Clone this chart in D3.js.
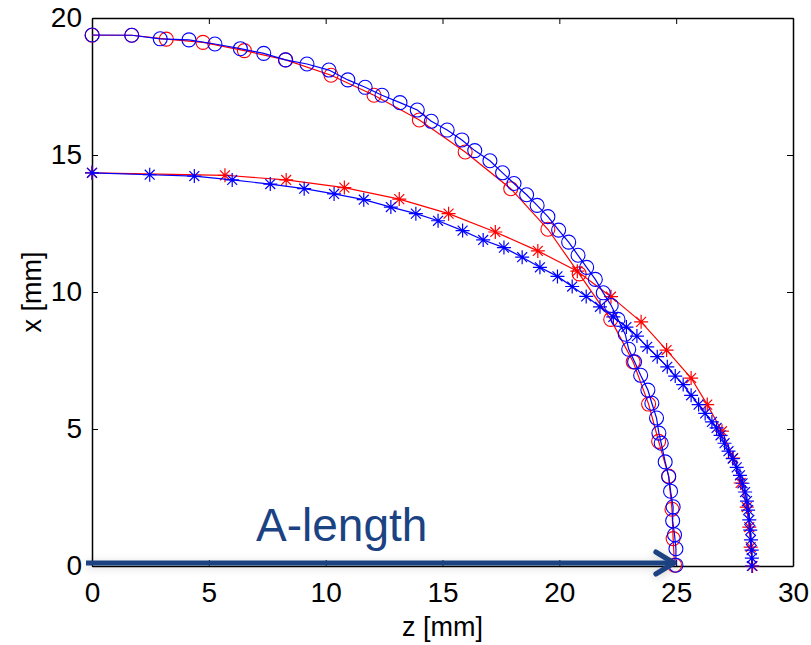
<!DOCTYPE html>
<html>
<head>
<meta charset="utf-8">
<script src="https://cdn.jsdelivr.net/npm/d3@7"></script>
<style>
  body { margin: 0; background: #fff; }
  svg { display: block; font-family: "Liberation Sans", Arial, sans-serif; }
</style>
</head>
<body>
<script>
// [z, x] samples in mm
const blueCircles = [
  [0.01, 19.38], [1.70, 19.37], [2.92, 19.24], [4.15, 19.20], [5.26, 19.05],
  [6.35, 18.88], [7.35, 18.71], [8.28, 18.47], [9.20, 18.32], [10.14, 18.10],
  [10.95, 17.74], [11.69, 17.47], [12.41, 17.18], [13.18, 16.91], [13.92, 16.64],
  [14.52, 16.23], [15.20, 15.91], [15.83, 15.55], [16.38, 15.16], [17.03, 14.79],
  [17.57, 14.35], [18.06, 13.96], [18.60, 13.55], [19.05, 13.16], [19.51, 12.75],
  [19.97, 12.26], [20.40, 11.82], [20.80, 11.34], [21.17, 10.90], [21.54, 10.46],
  [21.88, 9.97], [22.22, 9.51], [22.51, 9.00], [22.82, 8.46], [22.97, 7.91],
  [23.22, 7.45], [23.48, 6.96], [23.79, 6.42], [23.96, 5.94], [24.16, 5.40],
  [24.26, 4.85], [24.36, 4.48], [24.53, 3.80], [24.68, 3.26], [24.76, 2.73],
  [24.87, 2.16], [24.85, 1.65], [24.93, 1.14], [24.99, 0.63], [24.99, 0.03]
];

const redCircles = [
  [0, 19.37], [1.70, 19.37], [3.18, 19.23], [4.75, 19.11], [6.52, 18.81],
  [8.29, 18.47], [10.23, 17.91], [12.07, 17.18], [14.01, 16.28], [15.97, 15.11],
  [17.92, 13.77], [19.51, 12.29], [20.85, 10.66], [22.20, 9.00], [23.16, 7.45],
  [23.82, 5.91], [24.25, 4.55], [24.68, 3.28], [24.82, 2.07], [24.87, 1.00],
  [24.93, 0.03]
];

const blueStars = [
  [0, 14.35], [2.47, 14.28], [4.38, 14.23], [6.00, 14.09], [7.63, 13.94],
  [9.08, 13.77], [10.36, 13.58], [11.63, 13.37], [12.79, 13.10], [13.86, 12.86],
  [14.81, 12.60], [15.86, 12.24], [16.74, 11.90], [17.63, 11.62], [18.41, 11.27],
  [19.17, 10.90], [19.92, 10.57], [20.55, 10.20], [21.15, 9.84], [21.74, 9.46],
  [22.31, 9.09], [22.87, 8.72], [23.32, 8.39], [23.76, 8.00], [24.19, 7.64],
  [24.62, 7.27], [24.96, 6.93], [25.30, 6.62], [25.64, 6.23], [25.96, 5.89],
  [26.24, 5.57], [26.53, 5.26], [26.73, 5.04], [26.90, 4.77], [27.07, 4.48],
  [27.24, 4.19], [27.42, 3.92], [27.59, 3.60], [27.73, 3.31], [27.84, 3.02],
  [27.95, 2.70], [28.03, 2.37], [28.08, 2.04], [28.13, 1.68], [28.17, 1.31],
  [28.20, 0.95], [28.23, 0.58], [28.24, 0.29], [28.24, 0.0]
];

const redStars = [
  [0, 14.35], [5.69, 14.26], [8.31, 14.09], [10.80, 13.81], [13.15, 13.39],
  [15.26, 12.86], [17.26, 12.19], [19.08, 11.50], [20.77, 10.76], [22.21, 9.83],
  [23.50, 8.91], [24.59, 7.88], [25.64, 6.86], [26.33, 5.89], [26.96, 4.92],
  [27.44, 3.94], [27.76, 3.03], [28.02, 2.15], [28.13, 1.42], [28.19, 0.69],
  [28.27, 0]
];

const xTicks = [0, 5, 10, 15, 20, 25, 30];
const yTicks = [0, 5, 10, 15, 20];
const arrowLabel = "A-length";
const arrowEnd = 24.9; // mm, where the A-length arrow points

const width = 811;
const height = 645;
const box = { left: 92, right: 793, top: 18, bottom: 566 };
const navy = "#1b4282";

const svg = d3
  .select("body")
  .append("svg")
  .attr("width", width)
  .attr("height", height);

const xScale = d3.scaleLinear().domain([0, 30]).range([box.left, box.right]);
const yScale = d3.scaleLinear().domain([0, 20]).range([box.bottom, box.top]);

// Axes box, ticks pointing inward on all four sides
const tickLen = 6;
svg.append("g")
  .attr("transform", `translate(0, ${box.bottom})`)
  .call(d3.axisBottom(xScale).tickValues(xTicks).tickSizeInner(-tickLen).tickSizeOuter(0).tickPadding(16))
  .call((g) => g.select(".domain").attr("stroke-width", 1.5))
  .selectAll("text")
  .style("font-size", "28px")
  .attr("fill", "#000");

svg.append("g")
  .attr("transform", `translate(0, ${box.top})`)
  .call(d3.axisTop(xScale).tickValues(xTicks).tickSizeInner(-tickLen).tickSizeOuter(0).tickFormat(""))
  .call((g) => g.select(".domain").attr("stroke-width", 1.5));

svg.append("g")
  .attr("transform", `translate(${box.left}, 0)`)
  .call(d3.axisLeft(yScale).tickValues(yTicks).tickSizeInner(-tickLen).tickSizeOuter(0).tickPadding(10))
  .call((g) => g.select(".domain").attr("stroke-width", 1.5))
  .selectAll("text")
  .style("font-size", "28px")
  .attr("fill", "#000");

svg.append("g")
  .attr("transform", `translate(${box.right}, 0)`)
  .call(d3.axisRight(yScale).tickValues(yTicks).tickSizeInner(-tickLen).tickSizeOuter(0).tickFormat(""))
  .call((g) => g.select(".domain").attr("stroke-width", 1.5));

svg.selectAll(".tick line").attr("stroke", "#000");

// Axis labels
svg.append("text")
  .attr("x", (box.left + box.right) / 2)
  .attr("y", 636)
  .attr("text-anchor", "middle")
  .style("font-size", "27px")
  .text("z [mm]");

svg.append("text")
  .attr("transform", `translate(41, ${(box.top + box.bottom) / 2}) rotate(-90)`)
  .attr("text-anchor", "middle")
  .style("font-size", "27px")
  .text("x [mm]");

// Series
const line = d3.line()
  .x((d) => xScale(d[0]))
  .y((d) => yScale(d[1]));

function star(r) {
  const a = r * Math.SQRT1_2;
  return `M${-r},0H${r}M0,${-r}V${r}M${-a},${-a}L${a},${a}M${-a},${a}L${a},${-a}`;
}

function drawSeries(data, color, marker) {
  const g = svg.append("g");
  g.append("path")
    .datum(data)
    .attr("d", line)
    .attr("fill", "none")
    .attr("stroke", color)
    .attr("stroke-width", 1.2);

  if (marker === "circle") {
    g.selectAll("circle")
      .data(data)
      .enter()
      .append("circle")
      .attr("cx", (d) => xScale(d[0]))
      .attr("cy", (d) => yScale(d[1]))
      .attr("r", 7)
      .attr("fill", "none")
      .attr("stroke", color)
      .attr("stroke-width", 1.1);
  } else {
    g.selectAll("path.star")
      .data(data)
      .enter()
      .append("path")
      .attr("class", "star")
      .attr("transform", (d) => `translate(${xScale(d[0])}, ${yScale(d[1])})`)
      .attr("d", star(7))
      .attr("fill", "none")
      .attr("stroke", color)
      .attr("stroke-width", 1.2);
  }
}

drawSeries(redCircles, "#ff0000", "circle");
drawSeries(redStars, "#ff0000", "star");
drawSeries(blueCircles, "#0000ff", "circle");
drawSeries(blueStars, "#0000ff", "star");

// A-length arrow with soft shadow
const defs = svg.append("defs");
const shadow = defs.append("filter")
  .attr("id", "shadow")
  .attr("x", "-10%").attr("y", "-200%")
  .attr("width", "120%").attr("height", "500%");
shadow.append("feDropShadow")
  .attr("dx", 0).attr("dy", 2)
  .attr("stdDeviation", 4)
  .attr("flood-color", "#000")
  .attr("flood-opacity", 0.18);

const arrowY = yScale(0) - 3;
const tipX = xScale(arrowEnd);
const arrow = svg.append("g").attr("filter", "url(#shadow)");
arrow.append("line")
  .attr("x1", xScale(0) - 6)
  .attr("x2", tipX - 3)
  .attr("y1", arrowY)
  .attr("y2", arrowY)
  .attr("stroke", navy)
  .attr("stroke-width", 5);
arrow.append("path")
  .attr("d", `M${tipX - 18},${arrowY - 11}L${tipX},${arrowY}L${tipX - 18},${arrowY + 11}`)
  .attr("fill", "none")
  .attr("stroke", navy)
  .attr("stroke-width", 5)
  .attr("stroke-linecap", "round")
  .attr("stroke-linejoin", "round");

svg.append("text")
  .attr("x", 256)
  .attr("y", 541)
  .attr("fill", navy)
  .style("font-size", "46px")
  .text(arrowLabel);
</script>
</body>
</html>
